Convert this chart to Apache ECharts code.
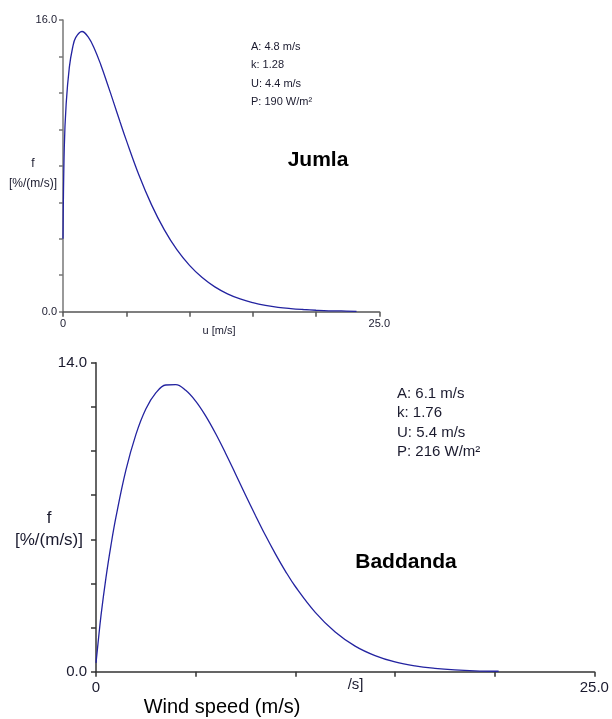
<!DOCTYPE html>
<html>
<head>
<meta charset="utf-8">
<script src="https://cdn.jsdelivr.net/npm/echarts@6/dist/echarts.min.js"></script>
<style>
html,body{margin:0;padding:0;background:#fff;}
#chart{width:612px;height:719px;}
</style>
</head>
<body>
<div id="chart"></div>
<script>
// Jumla (top) Weibull frequency curve
var jumlaSpeed = [0, 0.1, 0.25, 0.5, 0.75, 1, 1.5, 2, 2.5, 3, 3.5, 4, 4.5, 5, 6, 7, 8, 9, 10, 11, 12, 13, 14, 15, 16, 17, 18, 19, 20, 21, 22, 23.2];
var jumlaFreq  = [4.0, 8.96, 11.40, 13.40, 14.45, 15.03, 15.37, 15.06, 14.40, 13.52, 12.52, 11.48, 10.43, 9.41, 7.50, 5.86, 4.50, 3.40, 2.54, 1.87, 1.36, 0.98, 0.70, 0.50, 0.35, 0.24, 0.17, 0.12, 0.08, 0.05, 0.04, 0.02];
// Baddanda (bottom)
var baddSpeed = [0, 0.1, 0.25, 0.5, 0.75, 1, 1.5, 2, 2.5, 3, 3.5, 4, 4.5, 5, 5.5, 6, 6.5, 7, 7.5, 8, 8.5, 9, 9.5, 10, 11, 12, 13, 14, 15, 16, 17, 18, 19, 20.2];
var baddFreq  = [0.4, 1.27, 2.54, 4.26, 5.72, 7.00, 9.13, 10.74, 11.90, 12.63, 12.99, 13.01, 12.75, 12.26, 11.59, 10.79, 9.90, 8.96, 8.01, 7.08, 6.18, 5.34, 4.56, 3.86, 2.69, 1.80, 1.16, 0.73, 0.44, 0.26, 0.15, 0.08, 0.04, 0.02];

var jumlaStats = ['A: 4.8 m/s', 'k: 1.28', 'U: 4.4 m/s', 'P: 190 W/m\u00b2'];
var baddStats  = ['A: 6.1 m/s', 'k: 1.76', 'U: 5.4 m/s', 'P: 216 W/m\u00b2'];

var topY = {min: 0, max: 16, interval: 2};
var botY = {min: 0, max: 14, interval: 2};
var xRange = {min: 0, max: 25, interval: 5};

function zip(a, b){ return a.map(function(v,i){ return [v, b[i]]; }); }

var chart = echarts.init(document.getElementById('chart'), null, {renderer:'canvas'});
var lineColor = '#2323a0';
var FONT = 'Liberation Sans, Arial, sans-serif';

function xAxisCfg(gi, axisColor, fs, margin, tickLen){
  return {
    type:'value', gridIndex: gi, min: xRange.min, max: xRange.max, interval: xRange.interval,
    axisLine:{show:true, onZero:false, lineStyle:{color:axisColor, width:1.5}},
    axisTick:{show:true, inside:false, length:tickLen, lineStyle:{color:axisColor, width:1.5}},
    splitLine:{show:false},
    axisLabel:{show:true, margin: margin, fontFamily: FONT, fontSize: fs, color:'#1a1a2e', showMaxLabel:true, showMinLabel:true,
      formatter:function(v){ if(v===0) return '0'; if(v===25) return '25.0'; return ''; }}
  };
}
function yAxisCfg(gi, r, axisColor, fs, margin, tickLen){
  return {
    type:'value', gridIndex: gi, min: r.min, max: r.max, interval: r.interval,
    axisLine:{show:true, onZero:false, lineStyle:{color:axisColor, width:1.5}},
    axisTick:{show:true, inside:false, length:tickLen, lineStyle:{color:axisColor, width:1.5}},
    splitLine:{show:false},
    axisLabel:{show:true, margin: margin, fontFamily: FONT, fontSize: fs, color:'#1a1a2e', showMaxLabel:true, showMinLabel:true,
      formatter:function(v){ if(v===r.min || v===r.max) return v.toFixed(1); return ''; }}
  };
}

function txt(x, y, s, font, align, fill){
  return {type:'text', x:x, y:y, z:100,
    style:{text:s, font:font, fill: fill || '#1a1a2e', textAlign: align || 'left', textVerticalAlign:'middle', align: align || 'left', verticalAlign:'middle'}};
}

var graphics = [];
graphics.push(txt(33, 164, 'f', '12px ' + FONT, 'center'));
graphics.push(txt(33, 184, '[%/(m/s)]', '12px ' + FONT, 'center'));
graphics.push(txt(219, 331, 'u [m/s]', '11px ' + FONT, 'center'));
var tys = [47, 65, 84, 102];
jumlaStats.forEach(function(s,i){ graphics.push(txt(251, tys[i], s, '11px ' + FONT, 'left')); });
graphics.push(txt(318, 160, 'Jumla', 'bold 21px ' + FONT, 'center', '#000'));
graphics.push(txt(49, 518, 'f', '17px ' + FONT, 'center'));
graphics.push(txt(49, 540, '[%/(m/s)]', '17px ' + FONT, 'center'));
graphics.push(txt(341, 685, 'u [m/s]', '15px ' + FONT, 'center'));
var bys = [394, 413, 433, 452];
baddStats.forEach(function(s,i){ graphics.push(txt(397, bys[i], s, '15px ' + FONT, 'left')); });
graphics.push(txt(406, 562, 'Baddanda', 'bold 21px ' + FONT, 'center', '#000'));
// white box that covers part of the lower axis name, under the caption
graphics.push({type:'rect', z:110, shape:{x:126, y:678, width:221, height:41}, style:{fill:'#fff'}});
graphics.push({type:'rect', z:110, shape:{x:300, y:673, width:47, height:6}, style:{fill:'#fff'}});
graphics.push({type:'text', x:222, y:707, z:120,
  style:{text:'Wind speed (m/s)', font:'20px ' + FONT, fill:'#000', textAlign:'center', textVerticalAlign:'middle', align:'center', verticalAlign:'middle'}});

chart.setOption({
  animation:false,
  backgroundColor:'#fff',
  grid:[
    {left:63, top:20, width:316.3, height:291.7, containLabel:false},
    {left:96, top:362.7, width:498.3, height:309, containLabel:false}
  ],
  xAxis:[ xAxisCfg(0, '#555', 11, 7, 5), xAxisCfg(1, '#333', 15, 9, 5) ],
  yAxis:[ yAxisCfg(0, topY, '#777', 11, 6, 4), yAxisCfg(1, botY, '#333', 15, 9, 5) ],
  series:[
    {type:'line', xAxisIndex:0, yAxisIndex:0, data: zip(jumlaSpeed, jumlaFreq), showSymbol:false, smooth:0.4,
      lineStyle:{color:lineColor, width:1.3}, clip:true},
    {type:'line', xAxisIndex:1, yAxisIndex:1, data: zip(baddSpeed, baddFreq), showSymbol:false, smooth:0.4,
      lineStyle:{color:lineColor, width:1.3}, clip:true}
  ],
  graphic: graphics
});
</script>
</body>
</html>
